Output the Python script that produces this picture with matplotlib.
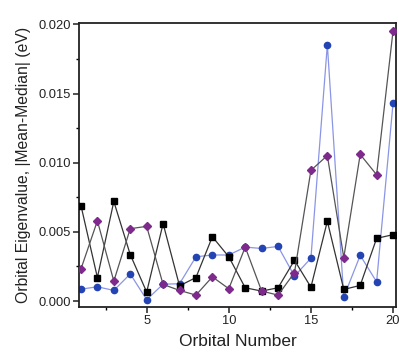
import matplotlib
matplotlib.use("Agg")
import matplotlib.pyplot as plt
from matplotlib.ticker import MultipleLocator

plt.rcParams['font.family'] = ['Liberation Sans', 'DejaVu Sans']

# Orbital index
orbitals = list(range(1, 21))

# |Mean-Median| values for the three series (eV)
black_squares = [0.0069, 0.0017, 0.0072, 0.00336, 0.00065, 0.0056, 0.0011, 0.0017,
                 0.00465, 0.0032, 0.00096, 0.00072, 0.00096, 0.00295, 0.0010,
                 0.00577, 0.00084, 0.00113, 0.00453, 0.0048]
blue_circles = [0.00086, 0.00103, 0.00077, 0.00196, 0.0001, 0.00122, 0.00125, 0.0032,
                0.00333, 0.00333, 0.0039, 0.0038, 0.00395, 0.0018, 0.0031,
                0.01853, 0.00029, 0.0033, 0.00139, 0.0143]
purple_diamonds = [0.00232, 0.0058, 0.00144, 0.00523, 0.0054, 0.0012, 0.00077, 0.00043,
                   0.00175, 0.00089, 0.0039, 0.00072, 0.00043, 0.00206, 0.00945,
                   0.01052, 0.00314, 0.0106, 0.00913, 0.01953]

fig = plt.figure(figsize=(3.99, 3.58), dpi=100)
ax = fig.add_axes([79 / 399, 1 - 307 / 358, 317 / 399, 284 / 358])

ax.plot(orbitals, black_squares, color='#333333', lw=0.9, marker='s', ms=4.5,
        mfc='black', mec='black', zorder=3)
ax.plot(orbitals, blue_circles, color='#8a95e6', lw=0.9, marker='o', ms=4.5,
        mfc='#2444b4', mec='#2444b4', zorder=2)
ax.plot(orbitals, purple_diamonds, color='#555555', lw=0.9, marker='D', ms=4.2,
        mfc='#7d2a8c', mec='#7d2a8c', zorder=4)

ax.set_xlim(0.88, 20.18)
ax.set_ylim(-0.00043, 0.0201)
ax.xaxis.set_major_locator(MultipleLocator(5))
ax.xaxis.set_minor_locator(MultipleLocator(2.5))
ax.yaxis.set_major_locator(MultipleLocator(0.005))
ax.yaxis.set_minor_locator(MultipleLocator(0.0025))
ax.yaxis.set_major_formatter(plt.FormatStrFormatter('%.3f'))

for s in ax.spines.values():
    s.set_linewidth(1.3)
    s.set_color('#222222')
ax.tick_params(which='major', direction='out', length=4.5, width=1.1,
               labelsize=9.3, colors='#222222', pad=1.5)
ax.tick_params(which='minor', direction='out', length=2.5, width=1.0)

ax.set_xlabel('Orbital Number', fontsize=12.5, color='#222222', labelpad=5)
ax.set_ylabel('Orbital Eigenvalue, |Mean-Median| (eV)', fontsize=11.3,
              color='#222222', labelpad=5)

fig.savefig('out.png', dpi=100)
